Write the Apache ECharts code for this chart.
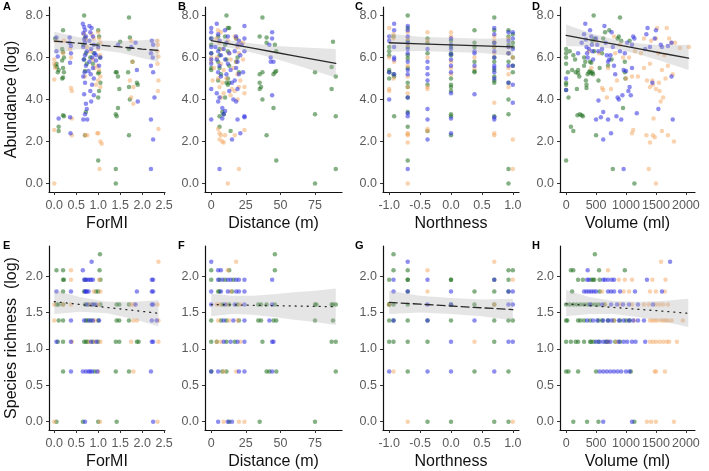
<!DOCTYPE html>
<html>
<head>
<meta charset="utf-8">
<script src="https://cdn.jsdelivr.net/npm/echarts@6/dist/echarts.min.js"></script>
<style>
html, body { margin: 0; padding: 0; background: #fff; }
#main { width: 709px; height: 471px; }
</style>
</head>
<body>
<div id="main"></div>
<script>
// ---- labels / ticks ----
var panelLetters = ['A', 'B', 'C', 'D', 'E', 'F', 'G', 'H'];
var xTitles = ['ForMI', 'Distance (m)', 'Northness', 'Volume (ml)'];
var yTitles = ['Abundance (log)', 'Species richness  (log)'];
var xTicksForMI = [0, 0.5, 1, 1.5, 2, 2.5];
var xTicksDist = [0, 25, 50, 75];
var xTicksNorth = [-1, -0.5, 0, 0.5, 1];
var xTicksVol = [0, 500, 1000, 1500, 2000];
var yTicksAbund = [0, 2, 4, 6, 8];
var yTicksRich = [0, 0.5, 1, 1.5, 2];

// ---- A: abundance ~ ForMI ----
var aForMIBlue = [[0.05,6.95],[0.05,6.3],[0.08,6.05],[0.1,3.1],[0.35,6.95],[0.35,6.7],[0.38,6.55],[0.38,6.2],[0.36,5.75],[0.36,3.15],[0.37,2.4],
  [0.65,7.6],[0.68,7.45],[0.7,7.3],[0.66,7.15],[0.72,7.0],[0.68,6.85],[0.7,6.7],[0.66,6.5],[0.74,6.3],[0.7,6.1],[0.67,5.9],[0.72,5.6],[0.69,5.3],[0.66,5.1],[0.7,4.8],[0.68,4.25],[0.72,3.8],[0.74,3.55],[0.7,3.3],[0.66,3.05],[0.75,3.05],
  [0.8,7.5],[0.85,7.4],[0.82,7.2],[0.88,7.0],[0.8,6.8],[0.9,6.6],[0.84,6.4],[0.92,6.2],[0.86,6.0],[0.8,5.8],[0.95,5.85],[0.88,5.5],[0.83,5.2],[0.9,5.0],[0.86,4.7],[0.82,4.4],[0.9,4.2],[0.84,3.9],[0.95,6.1],[0.78,5.35],
  [1.0,6.5],[1.05,6.0],[1.02,5.6],[1.45,6.6],[1.75,6.5],[1.85,6.7],[1.88,5.4],[1.9,3.9],
  [2.22,6.8],[2.25,6.6],[2.2,6.2],[2.24,6.0],[2.2,5.6],[2.25,5.3],[2.28,4.1],[2.2,3.05],[2.25,2.1],[2.2,0.7]];
var aForMIGreen = [[0.02,6.9],[0.05,5.7],[0.06,5.55],[0.1,5.4],[0.08,5.3],[0.03,5.6],[0.1,2.7],[0.1,2.5],
  [0.2,7.3],[0.18,6.4],[0.2,6.25],[0.22,6.0],[0.18,5.85],[0.2,5.5],[0.22,5.3],[0.2,5.05],[0.18,5.0],[0.2,3.25],[0.22,3.2],
  [0.68,8.0],[0.7,6.95],[0.66,6.6],[0.72,6.2],[0.68,5.9],[0.74,5.7],[0.7,5.35],[0.72,3.4],[0.7,2.3],
  [0.82,6.0],[0.88,5.7],[0.9,6.2],
  [1.0,7.3],[1.02,7.0],[1.0,6.6],[1.04,6.0],[1.02,5.3],[1.0,5.25],[1.05,4.8],[1.02,4.4],[1.0,4.1],[1.0,1.1],
  [1.4,5.3],[1.42,5.3],[1.45,5.1],[1.48,4.5],[1.45,3.6],[1.4,3.3],[1.42,3.2],[1.4,0.7],[1.4,0.0],[1.5,6.75],
  [1.7,7.9],[1.72,6.95],[1.7,6.4],[1.68,5.3],[1.7,4.6],[1.72,4.0],[1.7,2.3],[1.88,4.8],[1.9,4.7],[1.78,5.8]];
var aForMIOrange = [[0.0,5.9],[0.0,5.7],[0.02,5.5],[0.0,4.95],[0.0,2.55],[0.0,0.0],[0.05,6.8],[0.2,6.2],[0.22,6.8],
  [0.38,6.0],[0.38,4.55],[0.4,4.4],[0.4,3.1],[0.4,2.3],[0.36,6.4],
  [0.68,7.1],[0.72,6.85],[0.74,6.5],[0.7,2.3],[0.75,2.3],[0.7,5.1],
  [0.85,7.1],[0.9,6.9],[0.82,6.3],[0.88,5.9],[0.92,5.5],[0.95,4.7],
  [1.0,7.2],[1.02,6.9],[1.05,6.7],[1.0,6.4],[1.04,6.1],[0.98,5.6],[1.02,5.4],[1.05,5.1],[1.0,4.9],[1.05,4.6],[0.98,2.4],[1.0,2.4],[1.05,2.0],[1.08,1.9],[1.03,0.7],
  [1.75,6.8],[1.78,5.8],[1.72,4.9],[1.75,4.1],[1.8,3.8],[1.8,4.6],
  [2.35,6.8],[2.36,6.6],[2.35,6.3],[2.37,6.05],[2.35,5.7],[2.37,4.9],[2.36,4.4],[2.37,2.6]];

// ---- B: abundance ~ distance ----
var aDistBlue = [[0,7.4],[0,7.2],[0,6.9],[0,6.5],[0,6.2],[0,5.9],[0,5.7],[0,4.5],[0,3.05],
  [4,7.6],[5,7.1],[6,6.8],[3,6.5],[5,6.3],[7,6.1],[4,5.9],[6,5.6],[5,5.3],[7,5.1],[4,4.3],[6,4.1],[5,3.9],[8,3.6],[9,3.3],[8,3.1],[6,0.7],
  [10,7.3],[12,7.0],[11,6.7],[9,6.4],[13,6.2],[10,5.9],[12,5.7],[14,5.4],[11,5.2],[15,4.8],[13,4.4],[16,4.0],[10,3.45],[15,2.1],
  [18,7.0],[20,6.8],[19,6.6],[17,6.3],[21,6.1],[19,5.8],[18,5.5],[20,5.2],[17,4.9],[19,4.5],[18,3.9],[19,3.05],[21,2.4],
  [24,7.5],[24,6.9],[22,6.6],[24,6.3],[23,5.3],[24,3.2],[24,3.15],
  [44,7.2],[44,6.9],[42,6.6],[43,6.0],[45,5.8],[43,5.8],[44,4.2]];
var aDistGreen = [[0,6.9],[0,6.6],[0,6.2],[0,5.5],[0,5.4],
  [5,7.0],[6,6.4],[6,6.1],[5,5.8],[6,5.5],[7,5.2],[5,4.9],[6,3.2],[6,2.7],[8,3.4],
  [10,7.0],[12,7.4],[13,7.4],[11,8.0],[10,6.6],[12,6.3],[11,5.9],[13,5.6],[12,5.0],[11,4.8],[13,4.8],[12,4.7],[14,2.5],[10,4.1],[9,3.3],
  [18,6.9],[19,6.0],[18,5.8],[20,5.3],
  [35,7.0],[40,6.95],[40,6.7],[37,7.9],[46,6.6],[47,6.3],[35,5.2],[37,5.3],[35,4.8],[36,4.6],[35,4.5],[37,4.0],[46,5.3],[47,5.35],[45,5.2],[45,3.6],[40,2.3],[47,1.1],
  [75,5.3],[75,3.3],[75,0.0],[88,6.75],[87,5.55],[87,4.5],[90,5.1],[90,3.2],[90,0.7]];
var aDistOrange = [[0,6.0],[0,5.8],[2,5.5],[1,4.9],[4,6.9],[5,7.3],[7,7.2],[6,6.7],[8,6.4],[4,6.0],[7,5.7],[9,5.4],[5,5.0],[8,4.8],[6,4.6],[9,4.3],[7,4.1],[5,2.6],[6,2.4],[7,2.3],[8,2.0],[9,1.95],[10,2.3],[6,2.1],
  [12,6.8],[13,6.2],[14,5.9],[11,5.0],[15,4.5],[14,4.2],[12,0.0],[16,5.5],
  [17,7.0],[18,6.9],[19,6.5],[20,6.2],[21,6.7],[18,5.8],[19,5.2],[21,4.9],[20,4.6],[17,4.4],[19,4.0],[17,2.3],[20,0.7],
  [23,6.7],[24,4.6],[24,4.3],[24,2.55],[23,5.9]];

// ---- C: abundance ~ northness ----
var aNorthBlue = [[-0.92,7.6],[-0.92,7.3],[-1,7.0],[-1,6.8],[-0.92,6.5],[-0.92,6.0],[-0.92,5.9],[-1,5.3],[-0.92,5.2],[-1,4.0],
  [-0.7,7.5],[-0.7,7.3],[-0.7,7.0],[-0.7,6.7],[-0.7,6.4],[-0.7,6.2],[-0.7,5.8],[-0.7,5.4],[-0.7,5.2],[-0.7,4.1],[-0.7,3.35],[-0.7,3.2],[-0.7,0.7],
  [-0.38,6.4],[-0.38,5.8],[-0.38,5.5],[-0.38,5.2],[-0.38,4.9],[-0.38,3.55],[-0.38,3.05],[-0.38,2.1],
  [0,6.9],[0,6.6],[0,6.4],[0,6.15],[0,5.9],[0,5.6],[0,5.3],[0,4.3],[0,3.1],[0,2.4],
  [0.38,6.3],[0.38,6.2],[0.38,5.6],[0.38,4.25],
  [0.7,7.4],[0.7,7.1],[0.7,6.7],[0.7,6.3],[0.7,6.0],[0.7,5.6],[0.7,5.5],[0.7,5.3],[0.7,5.0],[0.7,3.15],[0.7,3.05],
  [0.93,7.2],[0.93,6.8],[0.93,6.5],[0.93,6.2],[0.93,5.6],[0.93,4.8],
  [1,7.2],[1,6.9],[1,6.4],[1,5.6],[1,4.7],[1,3.85]];
var aNorthGreen = [[-0.93,7.0],[-1,6.5],[-1,6.3],[-1,6.1],[-1,5.4],[-1,5.3],[-0.93,5.2],[-0.92,5.1],[-1,5.0],[-0.92,3.2],
  [-0.7,8.0],[-0.7,7.4],[-0.7,6.8],[-0.7,6.5],[-0.7,6.1],[-0.7,5.95],[-0.7,5.5],[-0.7,4.8],[-0.7,4.6],[-0.7,4.1],[-0.7,3.4],[-0.7,2.7],[-0.7,1.1],
  [-0.38,6.9],[-0.38,6.7],[-0.38,6.2],[-0.38,4.7],[-0.38,2.5],
  [0,6.8],[0,6.5],[0,6.2],[0,6.1],[0,5.0],[0,4.7],[0,4.6],[0,4.4],[0,3.3],[0,3.2],[0,2.3],
  [0.38,7.3],[0.38,6.7],[0.38,6.5],[0.38,5.8],[0.38,5.35],[0.38,5.3],
  [0.7,7.9],[0.7,7.3],[0.7,6.7],[0.7,6.5],[0.7,6.0],[0.7,5.8],[0.7,5.4],[0.7,5.1],[0.7,4.9],[0.7,4.8],[0.7,3.2],
  [0.93,7.3],[0.93,7.0],[0.93,6.6],[0.93,6.2],[0.93,5.8],[0.93,4.8],[0.93,4.0],[0.93,3.3],[0.93,0.7],[0.93,0.0],
  [1,7.1],[1,6.7],[1,6.5],[1,6.0],[1,5.6],[1,5.3]];
var aNorthOrange = [[-1,7.4],[-0.93,7.1],[-0.93,6.9],[-1,6.0],[-0.92,5.8],[-0.93,5.0],[-1,4.5],[-1,4.4],[-1,2.3],
  [-0.7,7.2],[-0.7,6.9],[-0.7,6.6],[-0.7,5.6],[-0.7,5.1],[-0.7,4.6],[-0.7,4.3],[-0.7,2.4],[-0.7,2.35],[-0.7,2.3],[-0.7,1.95],[-0.7,0.0],
  [-0.38,7.2],[-0.38,6.8],[-0.38,6.0],[-0.38,4.6],[-0.38,4.5],[-0.38,2.6],[-0.38,2.5],
  [0,7.2],[0,7.0],[0,5.8],[0,5.5],[0,5.2],[0.38,6.0],[0.38,5.5],
  [0.7,7.0],[0.7,6.8],[0.7,6.5],[0.7,6.2],[0.7,3.85],[0.7,2.4],[0.7,2.3],
  [0.93,6.9],[0.93,6.5],[0.93,6.2],[0.93,5.5],[0.93,5.2],[0.93,4.6],
  [1,6.0],[1,2.1],[1,0.7]];

// ---- D: abundance ~ volume ----
var aVolBlue = [[0,5.0],[0,4.45],[200,6.2],[260,6.7],[300,7.1],[320,7.6],[330,6.85],[340,6.5],[350,6.2],[360,6.0],[380,6.4],[400,7.3],[420,7.0],[430,6.6],[440,6.3],[450,5.9],[500,6.9],[520,6.6],[540,6.3],[500,3.05],[540,3.95],[580,3.15],[600,6.4],[620,3.4],[620,2.1],[640,7.5],[660,6.7],[680,6.1],[700,5.8],[700,3.05],[720,5.9],[740,6.1],[750,2.4],[760,7.2],[780,6.5],[800,5.6],[820,5.2],[840,3.2],[860,4.1],[880,4.0],[900,6.3],[920,3.05],[940,4.2],[960,5.4],[960,0.7],[980,6.2],[1000,5.35],[1020,6.7],[1040,4.4],[1060,4.6],[1080,4.2],[1100,5.5],[1100,6.6],[1120,7.0],[1140,6.9],[1180,3.35],[1320,6.4],[1340,7.1],[1360,7.4],[1400,6.5],[1440,4.8],[1480,6.9],[1500,7.3],[1540,3.55],[1580,6.6],[1600,6.5],[1700,6.55],[1760,6.7],[1760,5.1],[1780,3.05]];
var aVolGreen = [[0,6.4],[0,6.2],[0,6.0],[0,5.7],[0,4.8],[0,4.7],[0,4.45],[0,1.1],[30,5.3],[40,4.1],[60,6.3],[80,2.7],[120,2.5],[120,6.1],[100,5.4],[150,5.9],[160,5.3],[180,4.5],[200,5.25],[200,5.4],[220,5.1],[190,3.25],[230,3.3],[260,3.25],[280,3.2],[300,6.0],[300,5.6],[320,5.8],[330,4.9],[340,4.7],[340,4.55],[360,5.2],[380,5.3],[400,5.35],[420,5.25],[440,5.3],[450,5.2],[400,5.8],[420,5.75],[440,6.8],[460,8.0],[470,6.3],[480,6.9],[500,2.3],[540,4.9],[560,5.5],[600,6.2],[620,6.9],[650,7.2],[700,5.6],[720,7.3],[760,5.9],[780,0.7],[860,6.9],[880,7.0],[900,7.9],[920,6.8],[950,3.6],[980,5.3],[990,5.0],[980,5.8],[1060,6.8],[1140,0.0]];
var aVolOrange = [[380,6.3],[420,5.5],[500,6.8],[550,6.2],[600,4.55],[620,4.45],[680,4.1],[700,5.5],[750,4.5],[800,7.0],[820,6.2],[850,4.9],[900,6.6],[950,6.0],[1000,5.0],[1050,6.0],[1100,5.1],[1100,2.4],[1120,2.55],[1150,6.3],[1200,5.1],[1250,6.2],[1300,5.5],[1340,2.3],[1350,4.9],[1380,0.7],[1400,5.7],[1400,4.6],[1420,6.8],[1440,4.9],[1450,4.7],[1460,3.1],[1450,2.3],[1480,2.2],[1500,4.5],[1500,6.9],[1500,0.0],[1520,7.4],[1540,6.2],[1550,4.8],[1560,4.4],[1580,3.9],[1600,5.4],[1600,2.5],[1620,4.1],[1640,6.1],[1660,5.0],[1680,7.4],[1700,5.6],[1700,2.3],[1720,6.9],[1760,6.7],[1780,5.2],[1800,2.0],[1820,6.7],[1900,6.45],[2050,6.5],[1400,1.95],[1300,6.9]];

// ---- E: richness ~ ForMI ----
var rForMIBlue = [[0.05,1.79],[0.38,1.79],[0.05,1.10],[0.38,1.39],[0.38,1.10],[0.38,0.69],[0.85,2.2],[0.65,2.08],[0.68,1.95],[0.72,1.95],[0.76,1.95],[0.8,1.95],[0.84,1.95],[0.88,1.95],[0.7,1.79],[0.72,1.79],[0.74,1.79],[0.78,1.79],[0.74,1.61],[0.86,1.61],[0.94,1.61],[0.68,1.39],[0.8,1.39],[0.88,1.39],[1.02,1.39],[0.84,1.10],[0.96,1.10],[0.65,0.69],[0.72,0.69],[0.78,0.69],[0.82,0.69],[0.86,0.69],[0.98,0.69],[0.7,0],[1.88,1.79],[1.85,1.61],[2.22,1.95],[2.25,1.95],[2.22,1.79],[2.25,1.79],[2.22,1.61],[2.25,1.61],[2.22,1.39],[2.33,1.39],[2.22,1.10],[2.25,1.10],[2.2,0.69],[2.25,0]];
var rForMIGreen = [[1.04,2.3],[0.05,2.08],[0.2,2.08],[1.03,2.08],[0.2,1.95],[0.22,1.95],[0.7,1.95],[1.05,1.95],[0.2,1.79],[0.68,1.79],[0.95,1.79],[1.0,1.79],[0.05,1.61],[0.1,1.61],[0.2,1.61],[0.7,1.61],[0.78,1.61],[0.9,1.61],[1.05,1.61],[1.42,1.61],[1.48,1.61],[1.7,1.61],[0.1,1.39],[0.2,1.39],[0.72,1.39],[0.76,1.39],[0.84,1.39],[1.0,1.39],[1.42,1.39],[1.48,1.39],[1.7,1.39],[0.08,1.10],[0.2,1.10],[0.68,1.10],[0.72,1.10],[0.76,1.10],[0.88,1.10],[1.0,1.10],[1.4,1.10],[1.48,1.10],[1.88,1.10],[1.92,1.10],[0.2,0.69],[0.92,0.69],[1.4,0.69],[1.7,0.69],[0.05,0],[0.65,0],[1.0,0],[1.42,0]];
var rForMIOrange = [[2.37,2.2],[0.38,2.08],[0.38,1.95],[1.02,1.95],[0.9,1.79],[1.05,1.79],[0.0,1.61],[0.2,1.61],[0.38,1.61],[0.82,1.61],[1.0,1.61],[1.75,1.61],[1.82,1.61],[2.35,1.61],[0.0,1.39],[0.92,1.39],[1.8,1.39],[1.88,1.39],[2.37,1.39],[0.4,1.10],[0.8,1.10],[0.92,1.10],[1.05,1.10],[1.75,1.10],[2.37,1.10],[1.0,0.69],[1.8,0.69],[0.0,0],[1.04,0],[2.35,0]];

// ---- F: richness ~ distance ----
var rDistBlue = [[0,2.2],[5,2.08],[7,2.08],[5,1.95],[8,1.95],[12,1.95],[14,1.95],[18,1.95],[20,1.95],[24,1.95],[44,1.95],[0,1.79],[7,1.79],[12,1.79],[18,1.79],[20,1.79],[24,1.79],[0,1.61],[10,1.61],[17,1.61],[24,1.61],[44,1.61],[9,1.39],[16,1.39],[24,1.39],[42,1.39],[9,1.10],[14,1.10],[19,1.10],[24,1.10],[44,1.10],[45,1.10],[0,0.69],[5,0.69],[20,0.69],[24,0.69],[44,0.69],[5,0],[12,0],[15,0]];
var rDistGreen = [[46,2.3],[0,2.08],[13,2.08],[46,2.08],[0,1.95],[6,1.95],[10,1.95],[16,1.95],[5,1.79],[15,1.79],[6,1.79],[8,1.61],[13,1.61],[19,1.61],[34,1.61],[36,1.61],[40,1.61],[46,1.61],[75,1.61],[76,1.61],[87,1.61],[88,1.61],[90,1.61],[0,1.39],[7,1.39],[11,1.39],[20,1.39],[34,1.39],[36,1.39],[45,1.39],[47,1.39],[75,1.39],[88,1.39],[0,1.10],[11,1.10],[17,1.10],[37,1.10],[87,1.10],[90,1.10],[8,0.69],[11,0.69],[40,0.69],[42,0.69],[47,0.69],[90,0.69],[13,0],[35,0],[75,0],[0,0.69],[4,1.10]];
var rDistOrange = [[18,2.2],[12,2.08],[14,1.79],[4,1.61],[6,1.61],[11,1.61],[21,1.61],[5,1.39],[13,1.39],[19,1.39],[4,1.10],[7,1.10],[21,1.10],[9,0.69],[18,0.69],[9,0],[20,0],[24,0]];

// ---- G: richness ~ northness ----
var rNorthBlue = [[-0.7,2.2],[-0.93,1.95],[-0.38,1.95],[-0.93,1.79],[0,1.79],[1.0,1.79],[-0.38,1.61],[0.93,1.61],[1.0,1.61],[-0.93,1.39],[-0.38,1.39],[0.38,1.39],[0,1.10],[0.93,1.10],[1.0,1.10],[-1,0.69],[-0.38,0.69],[0,0.69],[0.7,0.69],[-0.7,1.79],[0.7,1.95],[0.93,1.79],[0,1.61]];
var rNorthGreen = [[-0.93,2.3],[-0.93,2.08],[-0.7,2.08],[0.93,2.08],[1.0,2.08],[-1,1.95],[-0.7,1.95],[-0.7,1.95],[0,1.95],[0.7,1.95],[0.93,1.95],[-0.7,1.79],[0.38,1.79],[0.7,1.79],[0.93,1.79],[-1,1.61],[-0.93,1.61],[-0.7,1.61],[0,1.61],[0.38,1.61],[0.7,1.61],[-1,1.39],[-0.7,1.39],[0,1.39],[0.7,1.39],[0.93,1.39],[1.0,1.39],[-1,1.10],[-0.93,1.10],[-0.7,1.10],[-0.38,1.10],[0.7,1.10],[-0.7,0.69],[0.38,0.69],[0.93,0.69],[-0.38,0],[0,0],[0.7,0],[0.93,0],[-0.93,1.39],[-1,1.61],[0,1.95],[-0.38,1.39]];
var rNorthOrange = [[0.7,2.2],[-0.38,2.08],[1.0,1.95],[-0.38,1.79],[-0.93,0.69],[0.38,1.10],[-0.7,0],[1.0,0],[-1,1.61],[0.7,1.61]];

// ---- H: richness ~ volume ----
var rVolBlue = [[1736,2.2],[360,2.08],[350,1.95],[380,1.95],[620,1.95],[650,1.95],[700,1.95],[760,1.95],[800,1.95],[1350,1.95],[300,1.79],[340,1.79],[380,1.79],[420,1.79],[460,1.79],[500,1.79],[700,1.79],[750,1.79],[800,1.79],[900,1.79],[1150,1.79],[1600,1.79],[400,1.61],[600,1.61],[750,1.61],[850,1.61],[950,1.61],[1050,1.61],[1200,1.61],[1450,1.61],[350,1.39],[450,1.39],[520,1.39],[620,1.39],[700,1.39],[760,1.39],[880,1.39],[960,1.39],[1050,1.39],[1120,1.39],[1200,1.39],[1300,1.39],[500,1.10],[560,1.10],[620,1.10],[680,1.10],[740,1.10],[880,1.10],[960,1.10],[1020,1.10],[1100,1.10],[1160,1.10],[1320,1.10],[560,0.69],[620,0.69],[680,0.69],[740,0.69],[800,0.69],[860,0.69],[920,0.69],[1000,0.69],[1060,0.69],[620,0],[1100,0]];
var rVolGreen = [[480,2.3],[80,2.08],[120,2.08],[550,2.08],[980,2.08],[200,1.95],[280,1.95],[420,1.95],[450,1.95],[470,1.95],[560,1.95],[100,1.79],[560,1.79],[0,1.61],[60,1.61],[120,1.61],[180,1.61],[240,1.61],[300,1.61],[360,1.61],[420,1.61],[480,1.61],[540,1.61],[0,1.39],[20,1.39],[200,1.39],[240,1.39],[300,1.39],[400,1.39],[540,1.39],[600,1.39],[700,1.39],[800,1.39],[900,1.39],[1000,1.39],[0,1.10],[80,1.10],[160,1.10],[200,1.10],[300,1.10],[400,1.10],[420,1.10],[460,1.10],[540,1.10],[700,1.10],[820,1.10],[0,0.69],[40,0.69],[200,0.69],[500,0.69],[1080,0.69],[120,0],[350,0],[540,0],[1140,0],[640,1.61],[660,1.10],[900,1.10],[1060,1.39]];
var rVolOrange = [[1585,2.2],[700,2.08],[880,1.95],[980,1.95],[1100,1.95],[1440,1.95],[1660,1.95],[600,1.79],[960,1.79],[1050,1.79],[1400,1.79],[1500,1.79],[1650,1.79],[650,1.61],[900,1.61],[1100,1.61],[1300,1.61],[1380,1.61],[1500,1.61],[1560,1.61],[1620,1.61],[1700,1.61],[800,1.39],[1140,1.39],[1400,1.39],[1440,1.39],[1480,1.39],[1520,1.39],[1580,1.39],[1620,1.39],[1660,1.39],[1700,1.39],[1760,1.39],[1950,1.39],[700,1.10],[840,1.10],[1400,1.10],[1450,1.10],[1500,1.10],[1560,1.10],[1620,1.10],[1680,1.10],[1720,1.10],[1850,1.10],[1480,0.69],[1500,0.69],[1650,0.69],[1350,0],[1420,0],[1500,0],[1800,0]];

// ---- fitted lines with confidence band (x, fit, lower, upper) ----
var fitAX = [0, 0.5, 1, 1.5, 2, 2.37];
var fitAY = [6.78, 6.69, 6.59, 6.50, 6.40, 6.33];
var fitALo = [6.20, 6.39, 6.37, 6.22, 5.98, 5.78];
var fitAHi = [7.22, 6.99, 6.81, 6.78, 6.82, 6.88];
var fitBX = [0, 15, 30, 45, 60, 75, 90];
var fitBY = [6.80, 6.62, 6.44, 6.26, 6.08, 5.90, 5.72];
var fitBLo = [6.58, 6.44, 6.22, 5.96, 5.66, 5.35, 5.05];
var fitBHi = [7.02, 6.80, 6.66, 6.56, 6.50, 6.45, 6.40];
var fitCX = [-1, -0.5, 0, 0.5, 1];
var fitCY = [6.70, 6.65, 6.60, 6.55, 6.50];
var fitCLo = [6.27, 6.31, 6.26, 6.21, 6.07];
var fitCHi = [7.13, 6.99, 6.94, 6.89, 6.93];
var fitDX = [0, 400, 800, 1200, 1600, 2045];
var fitDY = [7.05, 6.84, 6.63, 6.42, 6.20, 5.97];
var fitDLo = [6.53, 6.52, 6.41, 6.17, 5.82, 5.40];
var fitDHi = [7.57, 7.16, 6.85, 6.67, 6.58, 6.60];
var fitEX = [0, 0.6, 1.2, 1.8, 2.37];
var fitEY = [1.65, 1.61, 1.57, 1.53, 1.49];
var fitELo = [1.48, 1.51, 1.49, 1.41, 1.31];
var fitEHi = [1.81, 1.71, 1.65, 1.65, 1.67];
var fitFX = [0, 15, 30, 45, 60, 75, 90];
var fitFY = [1.61, 1.605, 1.60, 1.595, 1.59, 1.585, 1.58];
var fitFLo = [1.45, 1.48, 1.47, 1.44, 1.40, 1.37, 1.33];
var fitFHi = [1.76, 1.73, 1.73, 1.75, 1.78, 1.80, 1.83];
var fitGX = [-1, -0.5, 0, 0.5, 1];
var fitGY = [1.64, 1.615, 1.59, 1.565, 1.54];
var fitGLo = [1.48, 1.50, 1.48, 1.45, 1.39];
var fitGHi = [1.80, 1.73, 1.70, 1.68, 1.69];
var fitHX = [0, 400, 800, 1200, 1600, 2040];
var fitHY = [1.62, 1.595, 1.57, 1.545, 1.52, 1.49];
var fitHLo = [1.45, 1.48, 1.48, 1.44, 1.38, 1.30];
var fitHHi = [1.81, 1.71, 1.66, 1.65, 1.66, 1.69];

// ---- layout ----
var colLeft = [49, 205, 383, 560];
var colWidth = [116, 137, 136, 135];
var rowTop = [7, 246];
var rowHeight = [185, 186];
var xRanges = [[-0.12, 2.52], [-4.5, 94.5], [-1.1, 1.1], [-102, 2152]];
var yRanges = [[-0.4, 8.4], [-0.115, 2.415]];
var xTickSets = [xTicksForMI, xTicksDist, xTicksNorth, xTicksVol];
var yTickSets = [yTicksAbund, yTicksRich];
var xDecimals = [1, 0, 1, 0];

var pointSets = [
  [aForMIGreen, aForMIOrange, aForMIBlue], [aDistGreen, aDistOrange, aDistBlue],
  [aNorthGreen, aNorthOrange, aNorthBlue], [aVolGreen, aVolOrange, aVolBlue],
  [rForMIGreen, rForMIOrange, rForMIBlue], [rDistGreen, rDistOrange, rDistBlue],
  [rNorthGreen, rNorthOrange, rNorthBlue], [rVolGreen, rVolOrange, rVolBlue]
];
var fits = [
  [fitAX, fitAY, fitALo, fitAHi, [8, 4]], [fitBX, fitBY, fitBLo, fitBHi, 'solid'],
  [fitCX, fitCY, fitCLo, fitCHi, 'solid'], [fitDX, fitDY, fitDLo, fitDHi, 'solid'],
  [fitEX, fitEY, fitELo, fitEHi, [1, 5]], [fitFX, fitFY, fitFLo, fitFHi, [1, 5]],
  [fitGX, fitGY, fitGLo, fitGHi, [8, 4]], [fitHX, fitHY, fitHLo, fitHHi, [1, 5]]
];
var dotColors = ['rgba(35,115,35,0.7)', 'rgba(243,165,95,0.62)', 'rgba(45,45,225,0.68)'];
var fontFam = 'Liberation Sans, Arial, sans-serif';

var grids = [], xAxes = [], yAxes = [], series = [], graphics = [];

for (var i = 0; i < 8; i++) {
  var row = Math.floor(i / 4), col = i % 4;
  grids.push({ left: colLeft[col], top: rowTop[row], width: colWidth[col], height: rowHeight[row], containLabel: false });
  (function (col, row) {
    xAxes.push({
      gridIndex: i, type: 'value', min: xRanges[col][0], max: xRanges[col][1],
      name: xTitles[col], nameLocation: 'middle', nameGap: 24,
      nameTextStyle: { fontSize: 16, color: '#111', fontFamily: fontFam },
      axisLine: { show: true, onZero: false, lineStyle: { color: '#111', width: 1.2 } },
      axisTick: { show: true, length: 3, customValues: xTickSets[col], lineStyle: { color: '#333' } },
      axisLabel: { customValues: xTickSets[col], fontSize: 12.5, color: '#5a5a5a', margin: 7, fontFamily: fontFam,
        formatter: function (v) { return v.toFixed(xDecimals[col]); } },
      splitLine: { show: false }
    });
    yAxes.push({
      gridIndex: i, type: 'value', min: yRanges[row][0], max: yRanges[row][1],
      name: col === 0 ? yTitles[row] : '', nameLocation: 'middle', nameGap: 29,
      nameTextStyle: { fontSize: 16, color: '#111', fontFamily: fontFam },
      axisLine: { show: true, onZero: false, lineStyle: { color: '#111', width: 1.2 } },
      axisTick: { show: true, length: 3, customValues: yTickSets[row], lineStyle: { color: '#333' } },
      axisLabel: { customValues: yTickSets[row], fontSize: 12.5, color: '#5a5a5a', margin: 6, fontFamily: fontFam,
        formatter: function (v) { return v.toFixed(1); } },
      splitLine: { show: false }
    });
  })(col, row);

  for (var c = 0; c < 3; c++) {
    series.push({
      type: 'scatter', xAxisIndex: i, yAxisIndex: i, symbolSize: 4.5,
      data: pointSets[i][c], itemStyle: { color: dotColors[c] }, silent: true, z: 2
    });
  }

  var f = fits[i];
  (function (fx, flo, fhi) {
    series.push({
      type: 'custom', xAxisIndex: i, yAxisIndex: i, z: 3, silent: true,
      data: fx.map(function (x, k) { return [x, flo[k], fhi[k]]; }),
      encode: { x: 0, y: [1, 2] },
      renderItem: function (params, api) {
        if (params.dataIndex !== 0) return null;
        var pts = [];
        for (var k = 0; k < fx.length; k++) pts.push(api.coord([fx[k], fhi[k]]));
        for (var k2 = fx.length - 1; k2 >= 0; k2--) pts.push(api.coord([fx[k2], flo[k2]]));
        return { type: 'polygon', shape: { points: pts }, style: { fill: 'rgba(175,175,175,0.33)' } };
      }
    });
  })(f[0], f[2], f[3]);
  series.push({
    type: 'line', xAxisIndex: i, yAxisIndex: i, z: 4, silent: true, showSymbol: false,
    data: f[0].map(function (x, k) { return [x, f[1][k]]; }),
    lineStyle: { color: '#2a2a2a', width: 1.3, type: f[4], cap: 'round' }
  });

  graphics.push({
    type: 'text', left: [3, 178, 355, 532][col], top: [1, 240][row],
    style: { text: panelLetters[i], font: 'bold 11px ' + fontFam, fill: '#000' }
  });
}

var chart = echarts.init(document.getElementById('main'), null, { renderer: 'canvas' });
chart.setOption({
  animation: false,
  backgroundColor: '#fff',
  grid: grids,
  xAxis: xAxes,
  yAxis: yAxes,
  series: series,
  graphic: graphics
});
</script>
</body>
</html>
